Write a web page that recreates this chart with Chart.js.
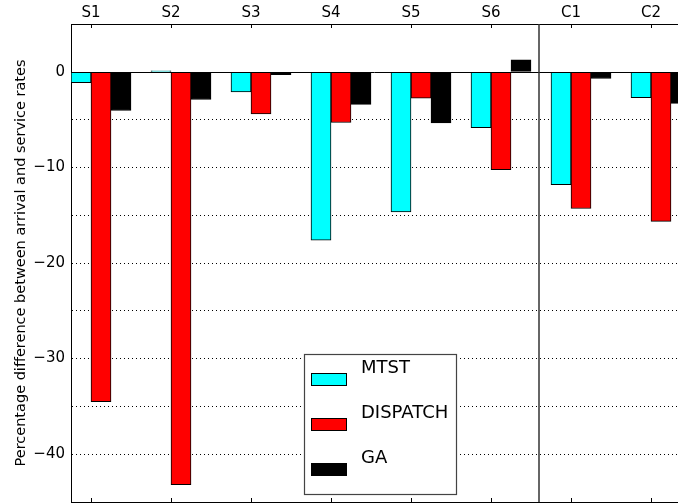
<!DOCTYPE html>
<html>
<head>
<meta charset="utf-8">
<script src="https://cdn.jsdelivr.net/npm/chart.js@4.4.1/dist/chart.umd.min.js"></script>
<style>
  html, body { margin: 0; padding: 0; background: #fff; overflow: hidden; }
</style>
</head>
<body>
<canvas id="grafico" width="678" height="503"></canvas>
<script>
// ── Dados ─────────────────────────────────
const categorias = ['S1', 'S2', 'S3', 'S4', 'S5', 'S6', 'C1', 'C2'];
const series     = ['MTST', 'DISPATCH', 'GA'];
const mtst       = [-1.15, 0.1, -2.1, -17.6, -14.65, -5.85, -11.8, -2.7];
const dispatch   = [-34.5, -43.2, -4.4, -5.3, -2.75, -10.25, -14.3, -15.65];
const ga         = [-4.05, -2.9, -0.3, -3.4, -5.35, 1.25, -0.7, -3.3];
const yGrade     = [5, 0, -5, -10, -15, -20, -25, -30, -35, -40, -45];
const yRotulos   = [0, -10, -20, -30, -40];
const divisao    = 5.6;   // separa cenários S e C

const cores   = ['#00ffff', '#ff0000', '#000000'];
const desloc  = [-0.125, 0.125, 0.375];
const FONTE   = 'DejaVu Sans';
const X_MIN = -0.25, X_MAX = 7.3375;

const mkDataset = (label, valores, k) => ({
  label,
  data: valores.map((v, i) => ({ x: i + desloc[k], y: v })),
  backgroundColor: cores[k],
  borderColor: '#000',
  borderWidth: 1,
  borderSkipped: false,
  grouped: false,
  barPercentage: 1,
  categoryPercentage: 1
});

const ticksCategorias = s => { s.ticks = categorias.map((c, i) => ({ value: i })); };
const semPadding = s => { s.paddingLeft = s.paddingRight = s.paddingTop = s.paddingBottom = 0; };

// ── Linhas extras, marcas internas e legenda ──
const extras = {
  id: 'extras',
  afterDatasetsDraw(chart) {
    const { ctx, chartArea: a, scales } = chart;
    const x = scales.x, y = scales.y;
    ctx.save();
    // linha do zero
    ctx.strokeStyle = '#000';
    ctx.lineWidth = 1;
    const y0 = Math.round(y.getPixelForValue(0)) + 0.5;
    ctx.beginPath(); ctx.moveTo(a.left, y0); ctx.lineTo(a.right, y0); ctx.stroke();
    // separador S | C
    ctx.strokeStyle = '#333';
    ctx.lineWidth = 1.5;
    const xd = x.getPixelForValue(divisao);
    ctx.beginPath(); ctx.moveTo(xd, a.top); ctx.lineTo(xd, a.bottom); ctx.stroke();
    // marcas para dentro no topo e na base
    ctx.strokeStyle = '#000';
    ctx.lineWidth = 1;
    categorias.forEach((c, i) => {
      const px = Math.round(x.getPixelForValue(i)) + 0.5;
      ctx.beginPath();
      ctx.moveTo(px, a.top); ctx.lineTo(px, a.top + 4);
      ctx.moveTo(px, a.bottom); ctx.lineTo(px, a.bottom - 4);
      ctx.stroke();
    });
    // legenda
    const bx = 304, by = 354, bw = 152, bh = 140;
    ctx.fillStyle = '#fff';
    ctx.fillRect(bx, by, bw, bh);
    ctx.strokeStyle = '#444';
    ctx.lineWidth = 1.2;
    ctx.strokeRect(bx + 0.5, by + 0.5, bw, bh);
    ctx.font = `18px "${FONTE}"`;
    ctx.textBaseline = 'middle';
    ctx.textAlign = 'left';
    series.forEach((nome, k) => {
      const py = by + 19 + k * 45;
      ctx.fillStyle = cores[k];
      ctx.fillRect(bx + 7, py, 36, 13);
      ctx.strokeStyle = '#000';
      ctx.lineWidth = 1;
      ctx.strokeRect(bx + 7.5, py + 0.5, 35, 12);
      ctx.fillStyle = '#000';
      ctx.fillText(nome, bx + 57, py - 5);
    });
    ctx.restore();
  }
};

new Chart(document.getElementById('grafico').getContext('2d'), {
  type: 'bar',
  data: {
    datasets: [
      mkDataset(series[0], mtst, 0),
      mkDataset(series[1], dispatch, 1),
      mkDataset(series[2], ga, 2)
    ]
  },
  options: {
    responsive: false,
    animation: false,
    devicePixelRatio: 1,
    layout: { padding: 0 },
    plugins: { legend: { display: false }, tooltip: { enabled: false } },
    scales: {
      x: {
        type: 'linear',
        position: 'bottom',
        offset: false,
        min: X_MIN, max: X_MAX,
        afterBuildTicks: ticksCategorias,
        afterFit: s => { s.height = 1; semPadding(s); },
        ticks: { display: false },
        grid: { display: false, offset: false },
        border: { display: true, color: '#000', width: 1 }
      },
      x2: {
        type: 'linear',
        position: 'top',
        offset: false,
        min: X_MIN, max: X_MAX,
        afterBuildTicks: ticksCategorias,
        afterFit: s => { s.height = 24; semPadding(s); },
        ticks: {
          color: '#000',
          padding: 2,
          maxRotation: 0,
          autoSkip: false,
          font: { family: FONTE, size: 15 },
          callback: v => categorias[v]
        },
        grid: { display: false, drawTicks: false, offset: false },
        border: { display: true, color: '#000', width: 1 }
      },
      y: {
        min: -45, max: 5,
        afterBuildTicks: s => { s.ticks = yGrade.map(v => ({ value: v })); },
        afterFit: s => { s.width = 71; semPadding(s); },
        ticks: {
          color: '#000',
          padding: 6,
          font: { family: FONTE, size: 15 },
          callback: v => yRotulos.includes(v) ? (v < 0 ? '\u2212' + Math.abs(v) : String(v)) : ''
        },
        grid: {
          drawTicks: false,
          lineWidth: 1,
          color: c => (c.tick && (c.tick.value === 0 || c.tick.value === 5 || c.tick.value === -45)) ? 'rgba(0,0,0,0)' : '#000'
        },
        border: { display: true, color: '#000', width: 1, dash: [1, 3] },
        title: {
          display: true,
          text: 'Percentage difference between arrival and service rates',
          color: '#000',
          font: { family: FONTE, size: 14.5 },
          padding: { top: 12.5, bottom: 0 }
        }
      }
    }
  },
  plugins: [extras]
});
</script>
</body>
</html>
